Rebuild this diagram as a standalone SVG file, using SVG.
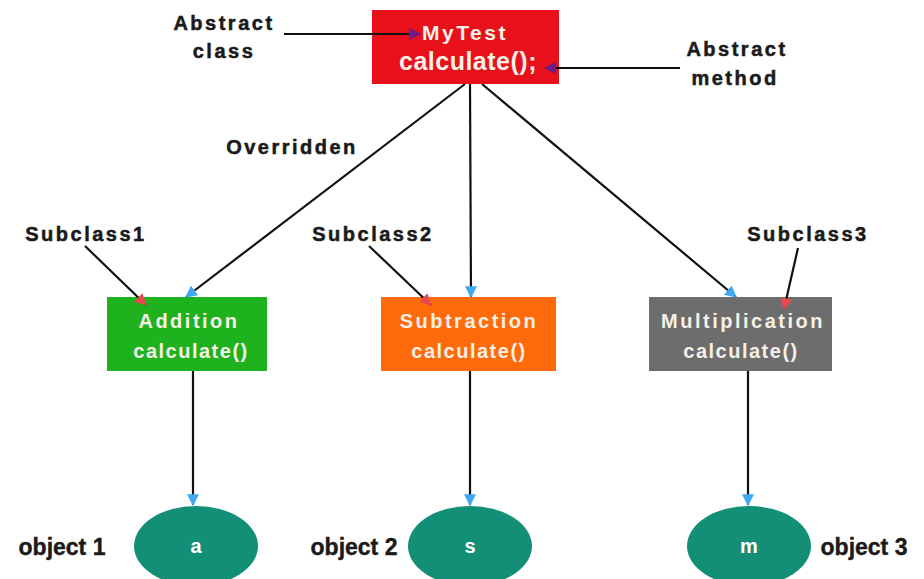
<svg xmlns="http://www.w3.org/2000/svg" width="924" height="579" viewBox="0 0 924 579">
<style>
.lbl{font-family:"Liberation Sans",Arial,sans-serif;font-weight:bold;font-size:20px;fill:#1a1a1a;letter-spacing:2.5px;text-anchor:middle;stroke:#1a1a1a;stroke-width:0.5px}
.obj{font-family:"Liberation Sans",Arial,sans-serif;font-weight:bold;font-size:23px;fill:#1a1a1a;text-anchor:middle;stroke:#1a1a1a;stroke-width:0.4px}
.nt{font-family:"Liberation Sans",Arial,sans-serif;font-weight:bold;font-size:20px;fill:#f6f0e6;letter-spacing:2.5px;text-anchor:middle}
.et{font-family:"Liberation Sans",Arial,sans-serif;font-weight:bold;font-size:20px;fill:#ffffff;text-anchor:middle}
.ln{stroke:#111;stroke-width:2.2;fill:none}
</style>
<defs>
<marker id="red" viewBox="0 0 10 10" refX="9" refY="5" markerWidth="12" markerHeight="12" orient="auto" markerUnits="userSpaceOnUse"><path d="M0,0 L10,5 L0,10 z" fill="#e8494f"/></marker>
<marker id="purple" viewBox="0 0 10 10" refX="9" refY="5" markerWidth="12" markerHeight="12" orient="auto" markerUnits="userSpaceOnUse"><path d="M0,0 L10,5 L0,10 z" fill="#6a1e8a"/></marker>
<marker id="bl" viewBox="0 0 10 10" refX="9" refY="5" markerWidth="12" markerHeight="12" orient="auto" markerUnits="userSpaceOnUse"><path d="M0,0 L10,5 L0,10 z" fill="#3ea8f0"/></marker>
</defs>
<rect width="924" height="579" fill="#ffffff"/>
<g id="mytest">
<rect x="372" y="10" width="187" height="74" fill="#e8101a"/>
<text class="nt" x="465" y="40" style="font-size:21px">MyTest</text>
<text class="nt" x="468" y="70" style="font-size:25px;letter-spacing:0.5px">calculate();</text>
</g>
<g id="abstract-class-label">
<text class="lbl" x="224" y="30">Abstract</text>
<text class="lbl" x="224" y="58">class</text>
</g>
<g id="abstract-method-label">
<text class="lbl" x="737" y="56">Abstract</text>
<text class="lbl" x="735" y="85">method</text>
</g>
<g id="overridden-label"><text class="lbl" x="292" y="154">Overridden</text></g>
<g id="subclass1-label"><text class="lbl" x="86" y="241">Subclass1</text></g>
<g id="subclass2-label"><text class="lbl" x="373" y="241">Subclass2</text></g>
<g id="subclass3-label"><text class="lbl" x="808" y="241">Subclass3</text></g>
<g id="addition">
<rect x="107" y="297" width="160" height="74" fill="#1fb21f"/>
<text class="nt" x="189" y="328">Addition</text>
<text class="nt" x="191" y="358" style="letter-spacing:1.5px">calculate()</text>
</g>
<g id="subtraction">
<rect x="381" y="297" width="175" height="74" fill="#ff6a0a"/>
<text class="nt" x="469" y="328">Subtraction</text>
<text class="nt" x="469" y="358" style="letter-spacing:1.5px">calculate()</text>
</g>
<g id="multiplication">
<rect x="649" y="297" width="183" height="74" fill="#6d6d6d"/>
<text class="nt" x="743" y="328">Multiplication</text>
<text class="nt" x="741" y="358" style="letter-spacing:1.5px">calculate()</text>
</g>
<g id="obj-a">
<ellipse cx="196" cy="546" rx="62" ry="40" fill="#148f77"/>
<text class="et" x="196" y="553">a</text>
</g>
<g id="obj-s">
<ellipse cx="470" cy="546" rx="62" ry="40" fill="#148f77"/>
<text class="et" x="470" y="553">s</text>
</g>
<g id="obj-m">
<ellipse cx="749" cy="546" rx="62" ry="40" fill="#148f77"/>
<text class="et" x="749" y="553">m</text>
</g>
<g id="object-labels">
<text class="obj" x="62" y="555">object 1</text>
<text class="obj" x="354" y="555">object 2</text>
<text class="obj" x="864" y="555">object 3</text>
</g>
<g id="connectors">
<line class="ln" x1="465" y1="84" x2="186" y2="297" marker-end="url(#bl)"/>
<line class="ln" x1="470" y1="84" x2="471" y2="297" marker-end="url(#bl)"/>
<line class="ln" x1="482" y1="84" x2="736" y2="297" marker-end="url(#bl)"/>
<line class="ln" x1="193" y1="371" x2="193" y2="505" marker-end="url(#bl)"/>
<line class="ln" x1="470" y1="371" x2="470" y2="505" marker-end="url(#bl)"/>
<line class="ln" x1="748" y1="371" x2="748" y2="505" marker-end="url(#bl)"/>
<line class="ln" x1="284" y1="34" x2="420" y2="34" marker-end="url(#purple)"/>
<line class="ln" x1="680" y1="68" x2="545" y2="68" marker-end="url(#purple)"/>
<line class="ln" x1="85" y1="246" x2="146" y2="305" marker-end="url(#red)"/>
<line class="ln" x1="369" y1="246" x2="431" y2="305" marker-end="url(#red)"/>
<line class="ln" x1="798" y1="248" x2="784" y2="309" marker-end="url(#red)"/>
</g>
</svg>
